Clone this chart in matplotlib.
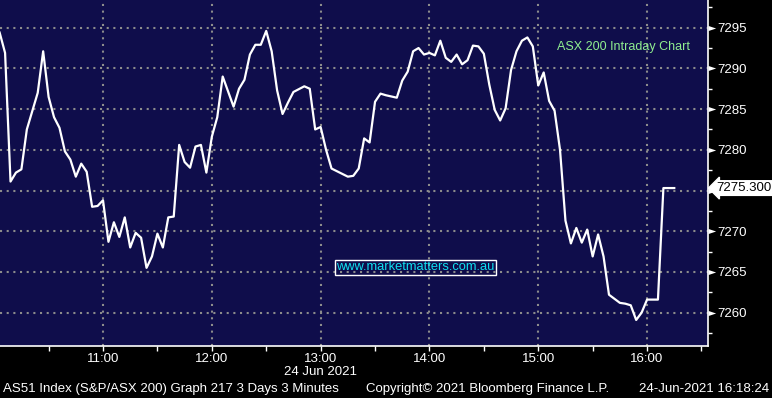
import matplotlib
matplotlib.use('Agg')
import matplotlib.pyplot as plt

# ASX 200 intraday, 3 minute bars (24 Jun 2021)
times = ["10:03", "10:06", "10:09", "10:12", "10:15", "10:18", "10:24", "10:27", "10:30", "10:33",
         "10:36", "10:39", "10:42", "10:45", "10:48", "10:51", "10:54", "10:57", "11:00", "11:03",
         "11:06", "11:09", "11:12", "11:15", "11:18", "11:21", "11:24", "11:27", "11:30", "11:33",
         "11:36", "11:39", "11:42", "11:45", "11:48", "11:51", "11:54", "11:57", "12:00", "12:03",
         "12:06", "12:12", "12:15", "12:18", "12:21", "12:24", "12:27", "12:30", "12:33", "12:36",
         "12:39", "12:42", "12:45", "12:51", "12:54", "12:57", "13:00", "13:03", "13:06", "13:15",
         "13:18", "13:21", "13:24", "13:27", "13:30", "13:33", "13:36", "13:42", "13:45", "13:48",
         "13:51", "13:54", "13:57", "14:00", "14:03", "14:06", "14:09", "14:12", "14:15", "14:18",
         "14:21", "14:24", "14:27", "14:30", "14:33", "14:36", "14:39", "14:42", "14:45", "14:48",
         "14:51", "14:54", "14:57", "15:00", "15:03", "15:06", "15:09", "15:12", "15:15", "15:18",
         "15:21", "15:24", "15:27", "15:30", "15:33", "15:36", "15:39", "15:45", "15:48", "15:51",
         "15:54", "15:57", "16:00", "16:06", "16:09", "16:15"]
prices = [7294.4, 7291.9, 7276.1, 7277.2, 7277.6, 7282.5, 7287.0, 7292.1, 7286.5, 7284.0,
          7282.7, 7279.8, 7278.8, 7276.7, 7278.3, 7277.3, 7273.0, 7273.1, 7273.8, 7268.7,
          7271.1, 7269.3, 7271.7, 7268.0, 7269.8, 7269.2, 7265.5, 7266.9, 7269.7, 7268.0,
          7271.7, 7271.8, 7280.6, 7278.5, 7277.8, 7280.4, 7280.6, 7277.2, 7281.6, 7284.0,
          7289.0, 7285.3, 7287.5, 7288.6, 7291.7, 7292.9, 7292.9, 7294.6, 7292.1, 7287.3,
          7284.4, 7285.8, 7287.1, 7287.8, 7287.5, 7282.5, 7282.8, 7280.0, 7277.7, 7276.7,
          7276.8, 7277.7, 7281.4, 7280.9, 7285.9, 7286.9, 7286.7, 7286.4, 7288.5, 7289.6,
          7292.1, 7292.5, 7291.7, 7291.9, 7291.6, 7293.4, 7291.3, 7290.8, 7291.7, 7290.5,
          7291.0, 7292.8, 7292.7, 7291.8, 7288.0, 7284.9, 7283.6, 7285.1, 7289.8, 7292.1,
          7293.4, 7293.8, 7292.7, 7287.9, 7289.5, 7286.0, 7284.8, 7280.0, 7271.3, 7268.5,
          7270.4, 7268.6, 7270.2, 7266.9, 7269.6, 7266.9, 7262.2, 7261.2, 7261.1, 7260.9,
          7259.1, 7260.0, 7261.6, 7261.6, 7275.3, 7275.3]
last_price = 7275.300

hour_labels = ["11:00", "12:00", "13:00", "14:00", "15:00", "16:00"]
half_hours = ["10:30", "11:30", "12:30", "13:30", "14:30", "15:30", "16:30"]
price_ticks = [7260, 7265, 7270, 7275, 7280, 7285, 7290, 7295]
minor_price_ticks = [7257.5, 7262.5, 7267.5, 7272.5, 7277.5, 7282.5, 7287.5, 7292.5, 7297.5]


def to_min(s):
    h, m = s.split(":")
    return int(h) * 60 + int(m)


x = [to_min(t) for t in times]

font = ['Liberation Sans', 'DejaVu Sans']
plt.rcParams['font.family'] = font

fig = plt.figure(figsize=(7.72, 3.98), dpi=100, facecolor='black')
ax = fig.add_axes([0, 52 / 398, 708 / 772, 346 / 398])
ax.set_facecolor('#0f0d4b')

ax.plot(x, prices, color='white', lw=1.6, zorder=3)

ax.set_xlim(603.2, 993.6)
ax.set_ylim(7255.9, 7298.4)

ax.set_xticks([to_min(t) for t in hour_labels])
ax.set_xticklabels(hour_labels)
ax.set_xticks([to_min(t) for t in half_hours], minor=True)
ax.set_yticks(price_ticks)
# the 7275 label sits under the last price box
ax.set_yticklabels(["" if round(v) == round(last_price) else str(v) for v in price_ticks])
ax.set_yticks(minor_price_ticks, minor=True)
ax.yaxis.tick_right()

for s in ['left', 'top']:
    ax.spines[s].set_visible(False)
for s in ['right', 'bottom']:
    ax.spines[s].set_color('white')
    ax.spines[s].set_linewidth(1.2)

ax.tick_params(axis='x', which='both', colors='white', direction='out', length=3.5, width=1,
               labelsize=9.5, pad=1.5)
ax.tick_params(axis='y', which='major', colors='white', length=0, labelsize=9.5, pad=7)
ax.tick_params(axis='y', which='minor', colors='white', direction='out', length=3, width=1)

# small arrow heads on the major price ticks
arrow = [(0, -1), (0, 1), (3, 0), (0, -1)]
ax.plot([1.0] * len(price_ticks), price_ticks, ls='none', marker=arrow, ms=11, color='white',
        mew=0, transform=ax.get_yaxis_transform(), clip_on=False, zorder=4)

ax.grid(True, which='major', color='#8c8c8c', linestyle=(0, (1, 2.2)), linewidth=1.5)
ax.set_axisbelow(True)

ax.text(0.88, 0.864, "ASX 200 Intraday Chart", transform=ax.transAxes, color='#90ee90',
        fontsize=9, ha='center', va='center')

ax.text(0.587, 0.227, "www.marketmatters.com.au", transform=ax.transAxes, color='#10e0f0',
        fontsize=9.3, ha='center', va='center',
        bbox=dict(boxstyle='square,pad=0.12', fc='none', ec='white', lw=1))

ax.text(1.0115, last_price, f"{last_price:.3f}", transform=ax.get_yaxis_transform(),
        color='black', fontsize=9.5, ha='left', va='center', zorder=6,
        bbox=dict(boxstyle='larrow,pad=0.1', fc='white', ec='white'), clip_on=False)

fig.text(321 / 772, 1 - 372 / 398, "24 Jun 2021", color='white', fontsize=9.5, ha='center',
         va='center')
fig.text(3 / 772, 1 - 389 / 398, "AS51 Index (S&P/ASX 200) Graph 217 3 Days 3 Minutes",
         color='white', fontsize=9.5, ha='left', va='center')
fig.text(366 / 772, 1 - 389 / 398, "Copyright\u00a9 2021 Bloomberg Finance L.P.",
         color='white', fontsize=9.5, ha='left', va='center')
fig.text(769 / 772, 1 - 389 / 398, "24-Jun-2021 16:18:24",
         color='white', fontsize=9.5, ha='right', va='center')

fig.savefig('out.png', dpi=100, facecolor='black')
